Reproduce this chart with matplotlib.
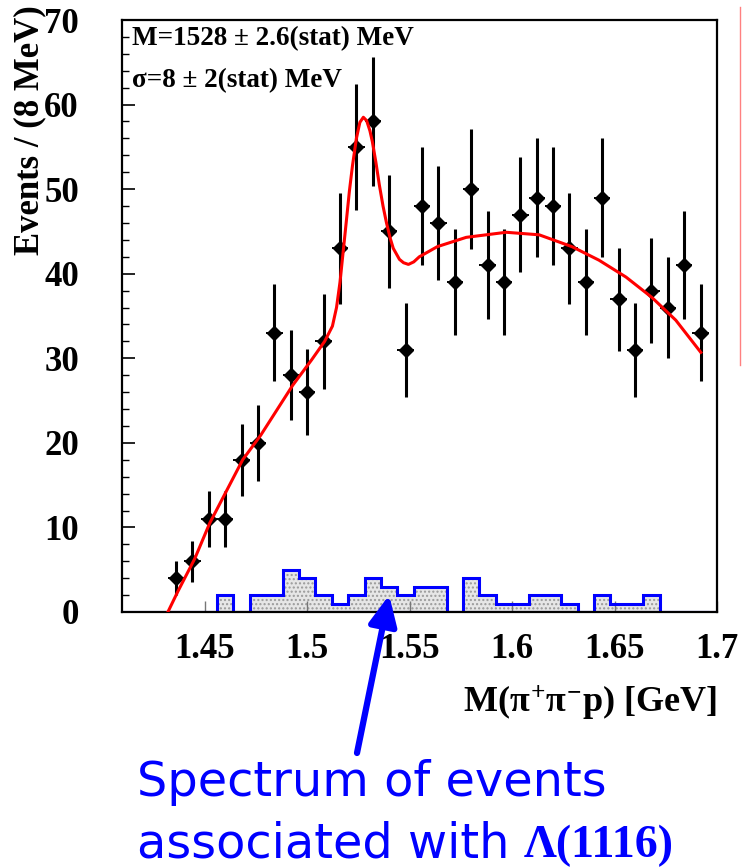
import numpy as np
import matplotlib
matplotlib.use("Agg")
import matplotlib.pyplot as plt
from matplotlib.lines import Line2D

plt.rcParams["font.family"] = ["Liberation Serif", "DejaVu Serif"]
plt.rcParams["font.weight"] = "bold"
plt.rcParams["axes.labelweight"] = "bold"
plt.rcParams["mathtext.fontset"] = "custom"
plt.rcParams["mathtext.rm"] = "Liberation Serif:bold"
plt.rcParams["mathtext.it"] = "Liberation Serif:bold"
plt.rcParams["mathtext.bf"] = "Liberation Serif:bold"

# 8 MeV bins, first bin starts at 1.432 GeV
BIN_LO = 1.432
BIN_W = 0.008

# M(pi+ pi- p) data points (events per bin)
counts = [4, 6, 11, 11, 18, 20, 33, 28, 26, 32,
          43, 55, 58, 45, 31, 48, 46, 39, 50, 41,
          39, 47, 49, 48, 43, 39, 49, 37, 31, 38,
          36, 41, 33]

# events associated with Lambda(1116), same bins
lambda_counts = [0, 0, 0, 2, 0, 2, 2, 5, 4, 2,
                 1, 2, 4, 3, 2, 3, 3, 0, 4, 2,
                 1, 1, 2, 2, 1, 0, 2, 1, 1, 2,
                 0, 0, 0]

# fit curve
fit_x = [1.4320, 1.4368, 1.4451, 1.4524, 1.4685, 1.4773, 1.4929, 1.5021,
         1.5085, 1.5123, 1.5143, 1.5160, 1.5175, 1.5190, 1.5206, 1.5221,
         1.5240, 1.5257, 1.5274, 1.5290, 1.5306, 1.5318, 1.5335, 1.5352,
         1.5370, 1.5387, 1.5405, 1.5420, 1.5450, 1.5470, 1.5494, 1.5520,
         1.5547, 1.5635, 1.5776, 1.5971, 1.6132, 1.6292, 1.6424, 1.6556,
         1.6682, 1.6799, 1.6921]
fit_y = [0.0, 2.4, 6.3, 10.5, 18.0, 20.9, 26.8, 29.8,
         32.0, 33.8, 36.0, 39.0, 42.5, 46.0, 49.8, 52.8,
         56.0, 57.9, 58.5, 58.1, 56.9, 55.6, 53.2, 50.5,
         48.0, 46.0, 44.2, 43.0, 41.7, 41.3, 41.1, 41.4,
         42.0, 43.2, 44.3, 44.9, 44.6, 43.2, 41.6, 39.6,
         37.2, 34.5, 30.7]

xticks = [1.45, 1.5, 1.55, 1.6, 1.65, 1.7]
xticklabels = ["1.45", "1.5", "1.55", "1.6", "1.65", "1.7"]
yticks = [0, 10, 20, 30, 40, 50, 60, 70]

BLUE = "#0000ff"

edges = BIN_LO + BIN_W * np.arange(len(counts) + 1)
centres = edges[:-1] + BIN_W / 2
errors = np.sqrt(counts)

W, H = 752, 867
fig = plt.figure(figsize=(W / 100, H / 100), dpi=100)
ax = fig.add_axes([122 / W, 1 - 612 / H, 595 / W, 592 / H])

# Lambda(1116) histogram
ax.stairs(lambda_counts, edges, fill=True, facecolor="#e6e6e6",
          edgecolor="#9a9a9a", hatch="....", linewidth=0, zorder=1)
ax.axhline(0, color=BLUE, lw=2.2, zorder=2)
ax.stairs(lambda_counts, edges, baseline=0, color=BLUE, lw=2.2, zorder=2)

# data points
ax.errorbar(centres, counts, yerr=errors, fmt="none", ecolor="black",
            elinewidth=2.2, zorder=3)
ax.errorbar(centres, counts, xerr=BIN_W / 2, fmt="D", color="black",
            ms=7, elinewidth=1.4, zorder=4)

# fit
ax.plot(fit_x, fit_y, color="red", lw=2.2, zorder=5, solid_joinstyle="round")

ax.set_xlim(1.4096, 1.6994)
ax.set_ylim(0, 70)

ax.set_xticks(xticks)
ax.set_xticklabels(xticklabels)
ax.set_yticks(yticks)
ax.set_yticks(np.arange(0, 71, 2), minor=True)
ax.tick_params(axis="x", which="major", direction="in", length=8, width=1,
               color="#777777", labelsize=25, pad=15)
ax.tick_params(axis="y", which="major", direction="in", length=9, width=1.2,
               labelsize=25, pad=31)
ax.tick_params(axis="y", which="minor", direction="in", length=5, width=1)
for s in ax.spines.values():
    s.set_linewidth(1.6)

ax.set_xlabel(r"M($\pi^{+}\pi^{-}$p) [GeV]", fontsize=26, ha="right")
ax.xaxis.set_label_coords(1.0, -0.122)

ax.set_ylabel("Events / (8 MeV)", fontsize=25)
ax.yaxis.label.set(ha="center", va="top", rotation_mode="default")
ax.yaxis.set_label_coords(-0.155, 1.025)

ax.text(0.017, 0.958, "M=1528 ± 2.6(stat) MeV", transform=ax.transAxes,
        fontsize=19.5, va="baseline")
ax.text(0.017, 0.887, "σ=8 ± 2(stat) MeV", transform=ax.transAxes,
        fontsize=19.5, va="baseline")

# thin red line at the right edge of the slide figure
fig.add_artist(Line2D([740 / W, 740 / W], [1 - 7 / H, 1 - 365 / H],
                      color="#ff8080", lw=1))

# annotation arrow and caption
ax.annotate("", xy=(1.540, 2.0), xycoords="data",
            xytext=(357, H - 753), textcoords="figure pixels",
            arrowprops=dict(arrowstyle="-|>,head_length=1.8,head_width=0.85",
                            color=BLUE, lw=4.5, shrinkA=0, shrinkB=0,
                            mutation_scale=10),
            annotation_clip=False)

cap_kw = dict(color=BLUE, fontsize=34.5, family=["DejaVu Sans"],
              weight="normal", va="baseline")
fig.text(137 / W, 1 - 796 / H, "Spectrum of events", **cap_kw)
t2 = fig.text(137 / W, 1 - 857 / H, "associated with", **cap_kw)
fig.canvas.draw()
x1 = t2.get_window_extent().x1
fig.text((x1 + 14) / W, 1 - 857 / H, "Λ(1116)", color=BLUE, fontsize=33,
         family=["Liberation Serif", "DejaVu Serif"], weight="bold",
         va="baseline")

fig.savefig("out.png", dpi=100)
